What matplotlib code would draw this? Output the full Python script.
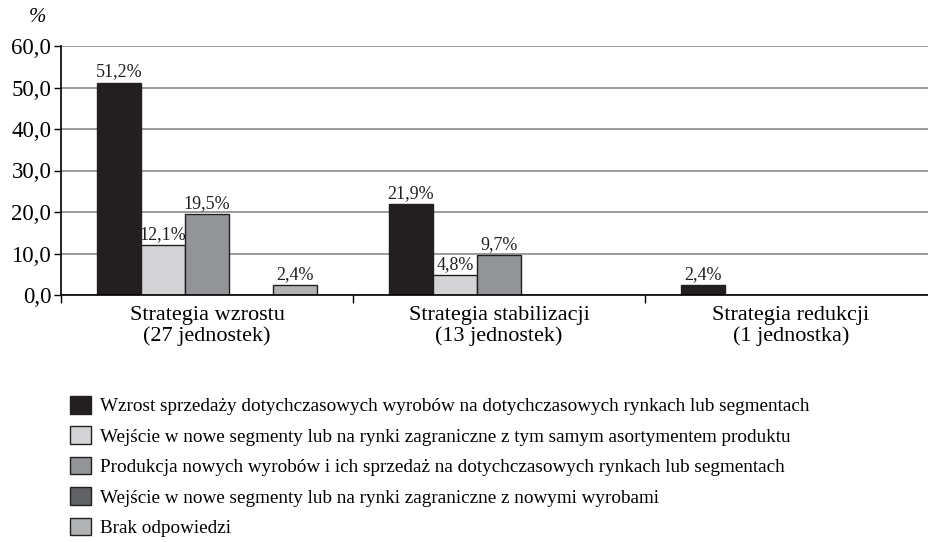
import matplotlib
matplotlib.use("Agg")
import matplotlib.pyplot as plt
import numpy as np

plt.rcParams['font.family'] = ['Liberation Serif', 'DejaVu Serif']

# data
categories = ["Strategia wzrostu\n(27 jednostek)",
              "Strategia stabilizacji\n(13 jednostek)",
              "Strategia redukcji\n(1 jednostka)"]
series_names = [
    "Wzrost sprzedaży dotychczasowych wyrobów na dotychczasowych rynkach lub segmentach",
    "Wejście w nowe segmenty lub na rynki zagraniczne z tym samym asortymentem produktu",
    "Produkcja nowych wyrobów i ich sprzedaż na dotychczasowych rynkach lub segmentach",
    "Wejście w nowe segmenty lub na rynki zagraniczne z nowymi wyrobami",
    "Brak odpowiedzi",
]
values = [
    [51.2, 21.9, 2.4],
    [12.1, 4.8, 0.0],
    [19.5, 9.7, 0.0],
    [0.0, 0.0, 0.0],
    [2.4, 0.0, 0.0],
]
colors = ["#231f20", "#d4d4d6", "#929497", "#616264", "#b1b2b4"]
yticks = [0, 10, 20, 30, 40, 50, 60]

W, H = 929, 542
fig = plt.figure(figsize=(W / 100, H / 100), dpi=100)
ax = fig.add_axes([61 / W, 1 - 295 / H, (929 - 61) / W, (295 - 46) / H])

x = np.arange(len(categories))
bw = 44 / 292
handles = []
for i, (vals, c) in enumerate(zip(values, colors)):
    pos = x + (i - 2) * bw
    b = ax.bar(pos, vals, width=bw, color=c, edgecolor="#231f20",
               linewidth=1.0, zorder=3, label=series_names[i])
    handles.append(b)
    for p, v in zip(pos, vals):
        if v > 0:
            ax.text(p, v + 0.5, f"{v:.1f}%".replace(".", ","), ha="center",
                    va="bottom", fontsize=13, color="#231f20", zorder=4)

ax.set_xlim(-0.5, 2.473)
ax.set_ylim(0, 60)
ax.set_yticks(yticks)
ax.set_yticklabels([f"{t:.1f}".replace(".", ",") for t in yticks], fontsize=16.5)
ax.set_xticks(x)
ax.set_xticklabels(categories, fontsize=16, linespacing=1.1)
ax.tick_params(axis="x", length=0, pad=8)
ax.set_xticks([-0.5, 0.5, 1.5], minor=True)
ax.tick_params(axis="x", which="minor", length=6, direction="out", width=1)
ax.tick_params(axis="y", length=5, direction="out", width=1, pad=2)

ax.grid(axis="y", color="#8a8a8a", linewidth=1.2, zorder=0)
for s in ["top", "right"]:
    ax.spines[s].set_visible(False)
ax.spines["left"].set_linewidth(1.2)
ax.spines["bottom"].set_linewidth(1.2)
ax.spines["left"].set_zorder(5)
ax.spines["bottom"].set_zorder(5)

fig.text(38 / W, 1 - 18 / H, "%", fontsize=15, style="italic",
         ha="center", va="center")

fig.legend(handles=handles, labels=series_names, loc="upper left",
           bbox_to_anchor=(70 / W, 1 - 396 / H), frameon=False, fontsize=13.8,
           handlelength=1.12, handleheight=1.03, handletextpad=0.45,
           labelspacing=0.58, borderpad=0, borderaxespad=0)

fig.savefig("out.png", dpi=100)
